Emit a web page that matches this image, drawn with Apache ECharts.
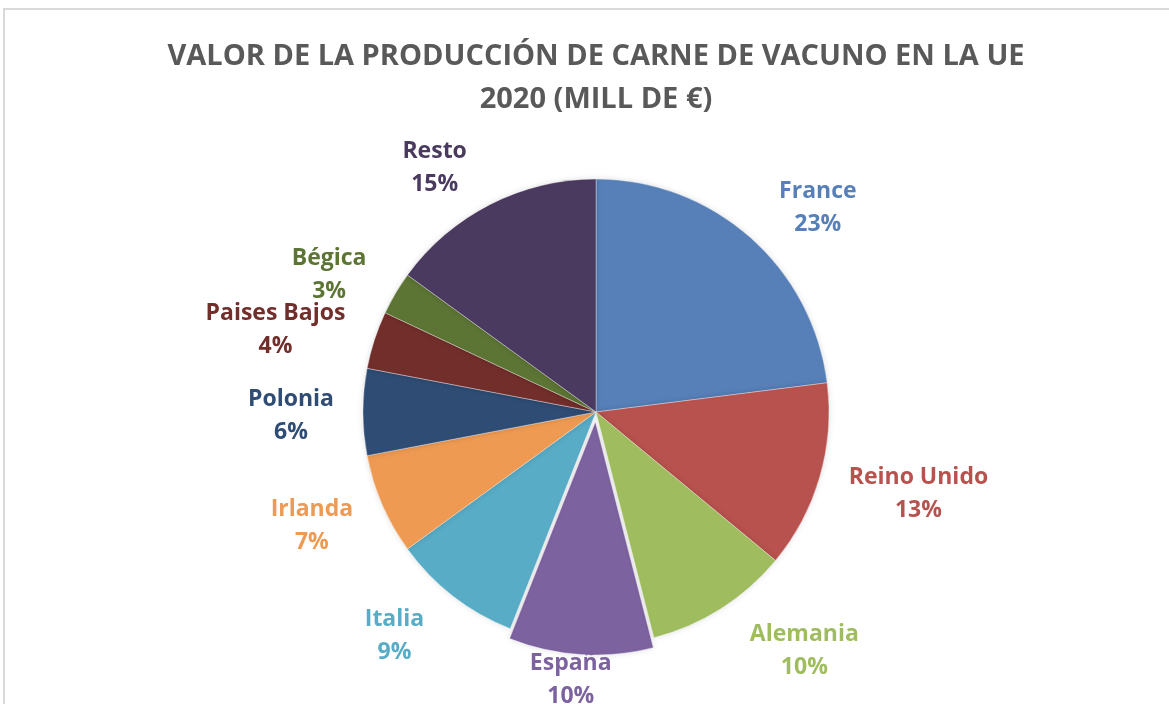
<!DOCTYPE html>
<html>
<head>
<meta charset="utf-8">
<script src="https://cdn.jsdelivr.net/npm/echarts@6/dist/echarts.min.js"></script>
<style>
    html, body { margin: 0; padding: 0; background: #fff; }
    #pie { width: 1169px; height: 704px; }
</style>
</head>
<body>
<div id="pie"></div>
<script>
    // categorias y porcentajes
    var paises = ['France', 'Reino Unido', 'Alemania', 'España', 'Italia', 'Irlanda', 'Polonia', 'Paises Bajos', 'Bégica', 'Resto'];
    var valores = [23, 13, 10, 10, 9, 7, 6, 4, 3, 15];
    var colores = ['#5780b9', '#b8524e', '#9fbc5f', '#7d62a0', '#58acc6', '#ee9a52', '#2f4c74', '#722e2b', '#5c7434', '#4a3a5f'];
    var separado = 'España';

    var cx = 596, cy = 412, radio = 233, explode = 10;
    var chart = echarts.init(document.getElementById('pie'));

    //angulo medio de cada porcion (desde arriba, sentido horario)
    var total = valores.reduce(function(a, b) { return a + b; }, 0);
    var acum = 0;
    var medios = valores.map(function(v) {
        var m = (acum + v / 2) / total * Math.PI * 2;
        acum += v;
        return m;
    });
    var iSep = paises.indexOf(separado);
    var transp = 'rgba(0,0,0,0)';

    var sombra = { borderColor: 'rgba(255,255,255,0.6)', borderWidth: 0.6, shadowBlur: 6, shadowColor: 'rgba(0,0,0,0.12)' };
    var nada = { color: transp, borderWidth: 0, shadowBlur: 0 };

    // serie principal: todas las porciones y etiquetas (la separada va en la otra serie)
    var datos = paises.map(function(p, i) {
        return {
            name: p,
            value: valores[i],
            itemStyle: i === iSep ? nada : Object.assign({ color: colores[i] }, sombra),
            label: { color: colores[i] }
        };
    });
    // serie de la porcion separada (España), desplazada hacia fuera
    var datosSep = paises.map(function(p, i) {
        return {
            name: p,
            value: valores[i],
            itemStyle: i === iSep ? Object.assign({ color: colores[i] }, sombra) : nada
        };
    });

    var option = {
        backgroundColor: '#fff',
        animation: false,
        title: {
            text: 'VALOR DE LA PRODUCCIÓN DE CARNE DE VACUNO EN LA UE\n2020 (MILL DE €)',
            left: 591,
            textAlign: 'center',
            top: 30,
            textStyle: {
                fontFamily: 'Open Sans',
                fontWeight: 'bold',
                fontSize: 29,
                lineHeight: 43,
                color: '#595959'
            }
        },
        graphic: [{
            type: 'rect',
            shape: { x: 4, y: 9, width: 1200, height: 720 },
            style: { fill: 'none', stroke: '#d9d9d9', lineWidth: 2 },
            silent: true
        }],
        series: [{
            type: 'pie',
            center: [cx + Math.sin(medios[iSep]) * explode, cy - Math.cos(medios[iSep]) * explode],
            radius: radio,
            startAngle: 90,
            clockwise: true,
            label: { show: false },
            labelLine: { show: false },
            emphasis: { disabled: true },
            silent: true,
            z: 1,
            data: datosSep
        }, {
            type: 'pie',
            center: [cx, cy],
            radius: radio,
            startAngle: 90,
            clockwise: true,
            avoidLabelOverlap: false,
            z: 3,
            label: {
                show: true,
                position: 'outside',
                formatter: '{b}\n{d}%',
                fontFamily: 'Open Sans',
                fontWeight: 'bold',
                fontSize: 23,
                lineHeight: 33
            },
            labelLine: { show: false },
            // etiquetas fuera del borde, al estilo "ajuste perfecto" de Excel
            labelLayout: function(p) {
                var a = medios[p.dataIndex];
                var ux = Math.sin(a), uy = -Math.cos(a);
                var w = p.labelRect.width, h = p.labelRect.height;
                var r = radio + (p.dataIndex === iSep ? explode : 0);
                var kx = Math.max(-1, Math.min(1, ux * 2));
                var x = cx + ux * r + kx * (w / 2 + 29);
                var y = cy + uy * r + uy * (h / 2 + 12) + 4;
                if (y > 704 - h / 2 + 9) {
                    // sin sitio abajo: Excel la sube y la corre hacia el centro
                    y = 704 - h / 2 + 9;
                    x = cx + ux * r - 10;
                }
                return { x: x, y: y, align: 'center', verticalAlign: 'middle' };
            },
            emphasis: { disabled: true },
            silent: true,
            data: datos
        }]
    };
    chart.setOption(option);
</script>
</body>
</html>
